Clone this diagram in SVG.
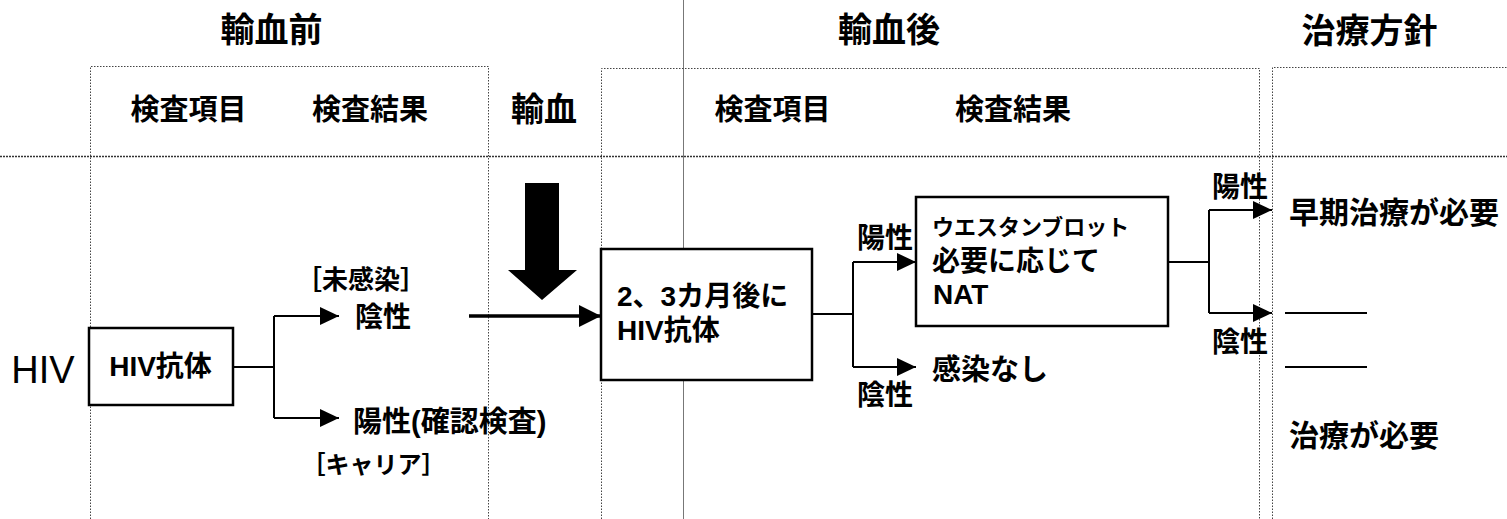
<svg xmlns="http://www.w3.org/2000/svg" width="1507" height="519" viewBox="0 0 1507 519">
<style>
text{font-family:'Liberation Sans','Noto Sans CJK JP',sans-serif;font-weight:bold;fill:#000;dominant-baseline:central}
.m{text-anchor:middle}
.s{text-anchor:start}
.title{font-size:34px}
.hdr{font-size:29px}
.t28{font-size:28px}
.box{fill:#fff;stroke:#000;stroke-width:2.5}
.dot{fill:none;stroke:#444;stroke-width:1;stroke-dasharray:1.5 1.5}
.con{fill:none;stroke:#000;stroke-width:2}
</style>
<defs>
<marker id="ah" markerUnits="userSpaceOnUse" markerWidth="19" markerHeight="18" refX="19" refY="9" orient="auto">
<path d="M0,0 L19,9 L0,18 z" fill="#000"/>
</marker>
<marker id="ahb" markerUnits="userSpaceOnUse" markerWidth="22" markerHeight="22" refX="22" refY="11" orient="auto">
<path d="M0,0 L22,11 L0,22 z" fill="#000"/>
</marker>
</defs>
<rect width="1507" height="519" fill="#fff"/>
<g id="grid">
<line x1="683.5" y1="0" x2="683.5" y2="519" stroke="#777" stroke-width="1"/>
<path class="dot" d="M90.5,519 V66.5 H488.5 V519"/>
<path class="dot" d="M601.5,519 V68.5 H1259.5 V519"/>
<path class="dot" d="M1272.5,519 V67.5 H1507"/>
<line class="dot" x1="0" y1="156.5" x2="1507" y2="156.5" style="stroke:#333;stroke-width:1.5;stroke-dasharray:2 1"/>
</g>
<g id="headers">
<text class="m title" x="271.5" y="30">輸血前</text>
<text class="m title" x="889" y="30">輸血後</text>
<text class="m title" x="1369.5" y="31">治療方針</text>
<text class="m hdr" x="188.5" y="110">検査項目</text>
<text class="m hdr" x="370" y="110">検査結果</text>
<text class="m" x="544" y="109" style="font-size:33px">輸血</text>
<text class="m hdr" x="772.5" y="110">検査項目</text>
<text class="m hdr" x="1013" y="110">検査結果</text>
</g>
<g id="row-label">
<text class="m" x="43" y="370" style="font-size:38px;font-weight:normal">HIV</text>
</g>
<g id="connectors">
<path class="con" d="M233,367 H274 M274,316 V418"/>
<line class="con" x1="274" y1="316" x2="339" y2="316" marker-end="url(#ah)"/>
<line class="con" x1="274" y1="418" x2="339" y2="418" marker-end="url(#ah)"/>
<line x1="469" y1="316" x2="601" y2="316" stroke="#000" stroke-width="3.5" marker-end="url(#ahb)"/>
<path class="con" d="M812,314 H853 M853,262 V367"/>
<line class="con" x1="853" y1="262" x2="916" y2="262" marker-end="url(#ah)"/>
<line class="con" x1="853" y1="367" x2="916" y2="367" marker-end="url(#ah)"/>
<path class="con" d="M1168,262 H1209 M1209,210 V313"/>
<line class="con" x1="1209" y1="210" x2="1272" y2="210" marker-end="url(#ah)"/>
<line class="con" x1="1209" y1="313" x2="1272" y2="313" marker-end="url(#ah)"/>
<line class="con" x1="1285" y1="313" x2="1367" y2="313"/>
<line class="con" x1="1285" y1="367" x2="1367" y2="367"/>
</g>
<g id="transfusion-arrow">
<polygon points="525,183 559,183 559,270 577,270 542,300 508,270 525,270" fill="#000"/>
</g>
<g id="node-pre-test">
<rect class="box" x="89" y="328" width="144" height="77"/>
<text class="m t28" x="160.5" y="366.5">HIV抗体</text>
</g>
<g id="node-pre-neg">
<text class="m" x="361" y="280" style="font-size:26px">［未感染］</text>
<text class="m t28" x="383" y="317.5">陰性</text>
</g>
<g id="node-pre-pos">
<text class="s" x="353" y="421.5" style="font-size:29px">陽性(確認検査)</text>
<text class="m" x="373.5" y="464" style="font-size:24px">［キャリア］</text>
</g>
<g id="node-post-test">
<rect class="box" x="601" y="249" width="211" height="131"/>
<text class="s t28" x="617" y="296">2、3カ月後に</text>
<text class="s t28" x="617" y="330.5">HIV抗体</text>
</g>
<g id="labels-post">
<text class="m t28" x="885" y="238.5">陽性</text>
<text class="m t28" x="885" y="395.5">陰性</text>
</g>
<g id="node-no-infection">
<text class="s" x="932" y="370" style="font-size:29px">感染なし</text>
</g>
<g id="node-confirm">
<rect class="box" x="916" y="197" width="252" height="129"/>
<text class="s" x="932" y="227.5" style="font-size:22px">ウエスタンブロット</text>
<text class="s t28" x="932" y="261.5">必要に応じて</text>
<text class="s t28" x="933" y="294">NAT</text>
</g>
<g id="labels-confirm">
<text class="m t28" x="1240" y="187.5">陽性</text>
<text class="m t28" x="1240" y="342.5">陰性</text>
</g>
<g id="node-early-treatment">
<text class="s" x="1289" y="212.5" style="font-size:30px">早期治療が必要</text>
</g>
<g id="node-treatment">
<text class="s" x="1289" y="435" style="font-size:30px">治療が必要</text>
</g>
</svg>
